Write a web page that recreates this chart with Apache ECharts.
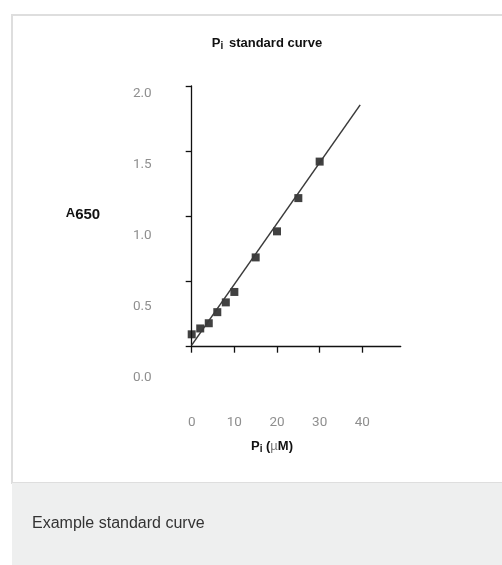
<!DOCTYPE html>
<html>
<head>
<meta charset="utf-8">
<script src="https://cdn.jsdelivr.net/npm/echarts@6/dist/echarts.min.js"></script>
<style>
html,body{margin:0;padding:0;background:#fff;}
#c{width:502px;height:565px;}
</style>
</head>
<body>
<div id="c"></div>
<script>
// Data
const piConc = [0, 2, 4, 6, 8, 10, 15, 20, 25, 30];          // Pi (µM)
const absorbance = [0.095, 0.14, 0.18, 0.265, 0.34, 0.42, 0.685, 0.885, 1.14, 1.42]; // A650
const fitX = [0, 39.5];
const fitY = [0.012, 1.855];
const xTickLabels = [0, 10, 20, 30, 40];
const yTickLabels = [0, 0.5, 1.0, 1.5, 2.0];

const chart = echarts.init(document.getElementById('c'), null, {renderer: 'canvas'});
const labelFont = 'Roboto, "Liberation Sans", Arial, sans-serif';
const boldFont = '"Liberation Sans", Arial, sans-serif';

chart.setOption({
  animation: false,
  backgroundColor: '#ffffff',
  graphic: [
    { type: 'rect', z: -10, shape: {x: 12, y: 15, width: 500, height: 468},
      style: {fill: '#ffffff', stroke: '#dedede', lineWidth: 2} },
    { type: 'rect', z: -10, shape: {x: 12, y: 483, width: 500, height: 90},
      style: {fill: '#eeefef'} },
    { type: 'text', left: 32, top: 516,
      style: {text: 'Example standard curve', fill: '#333', font: '16px ' + boldFont} },
    { type: 'text', x: 83, y: 215,
      style: {
        text: '{a|A}{b|650}', align: 'center', verticalAlign: 'middle',
        rich: {
          a: {fontSize: 13, fontWeight: 'bold', fill: '#111', fontFamily: boldFont, verticalAlign: 'top', padding: [0,0,4,0]},
          b: {fontSize: 15, fontWeight: 'bold', fill: '#111', fontFamily: boldFont}
        }
      } },
    { type: 'text', x: 272, y: 446,
      style: {
        text: '{p|P}{s|i}{p| (}{u|µ}{p|M)}', align: 'center', verticalAlign: 'middle',
        rich: {
          p: {fontSize: 13, fontWeight: 'bold', fill: '#111', fontFamily: boldFont},
          s: {fontSize: 10, fontWeight: 'bold', fill: '#111', fontFamily: boldFont, padding: [6,0,0,0]},
          u: {fontSize: 13, fill: '#777', fontFamily: boldFont}
        }
      } },
    { type: 'text', x: 267, y: 43,
      style: {
        text: '{p|P}{s|i}{p| standard curve}', align: 'center', verticalAlign: 'middle',
        rich: {
          p: {fontSize: 13, fontWeight: 'bold', fill: '#111', fontFamily: boldFont},
          s: {fontSize: 10, fontWeight: 'bold', fill: '#111', fontFamily: boldFont, padding: [7,2,0,0]}
        }
      } }
  ],
  grid: [
    {left: 191.7, right: 101.3, top: 86, bottom: 218.3},
    {left: 191.7, right: 101.3, top: 94, bottom: 187}
  ],
  xAxis: [
    {
      gridIndex: 0, type: 'value', min: 0, max: 49,
      splitLine: {show: false},
      axisLine: {lineStyle: {color: '#111', width: 1.3}},
      axisTick: {length: 6, customValues: xTickLabels, lineStyle: {color: '#111', width: 1.3}},
      axisLabel: {customValues: xTickLabels, margin: 69, color: '#8f8f8f', fontSize: 13.5, fontFamily: labelFont}
    },
    { gridIndex: 1, type: 'value', min: 0, max: 49, show: false }
  ],
  yAxis: [
    {
      gridIndex: 0, type: 'value', min: 0, max: 2, interval: 0.5,
      splitLine: {show: false},
      axisLine: {show: true, lineStyle: {color: '#111', width: 1.3}},
      axisTick: {show: true, length: 6, lineStyle: {color: '#111', width: 1.3}},
      axisLabel: {show: false}
    },
    {
      gridIndex: 1, type: 'value', min: 0, max: 2, interval: 0.5,
      splitLine: {show: false},
      axisLine: {show: false}, axisTick: {show: false},
      axisLabel: {customValues: yTickLabels, margin: 40, color: '#8f8f8f', fontSize: 13.5, fontFamily: labelFont,
        formatter: v => v.toFixed(1)}
    }
  ],
  series: [
    {
      type: 'line', xAxisIndex: 0, yAxisIndex: 0,
      data: fitX.map((x, i) => [x, fitY[i]]),
      symbol: 'none', lineStyle: {color: '#3a3a3a', width: 1.5}, silent: true
    },
    {
      type: 'scatter', xAxisIndex: 0, yAxisIndex: 0,
      data: piConc.map((x, i) => [x, absorbance[i]]),
      symbol: 'rect', symbolSize: 8, itemStyle: {color: '#111'}
    }
  ]
});
</script>
</body>
</html>
